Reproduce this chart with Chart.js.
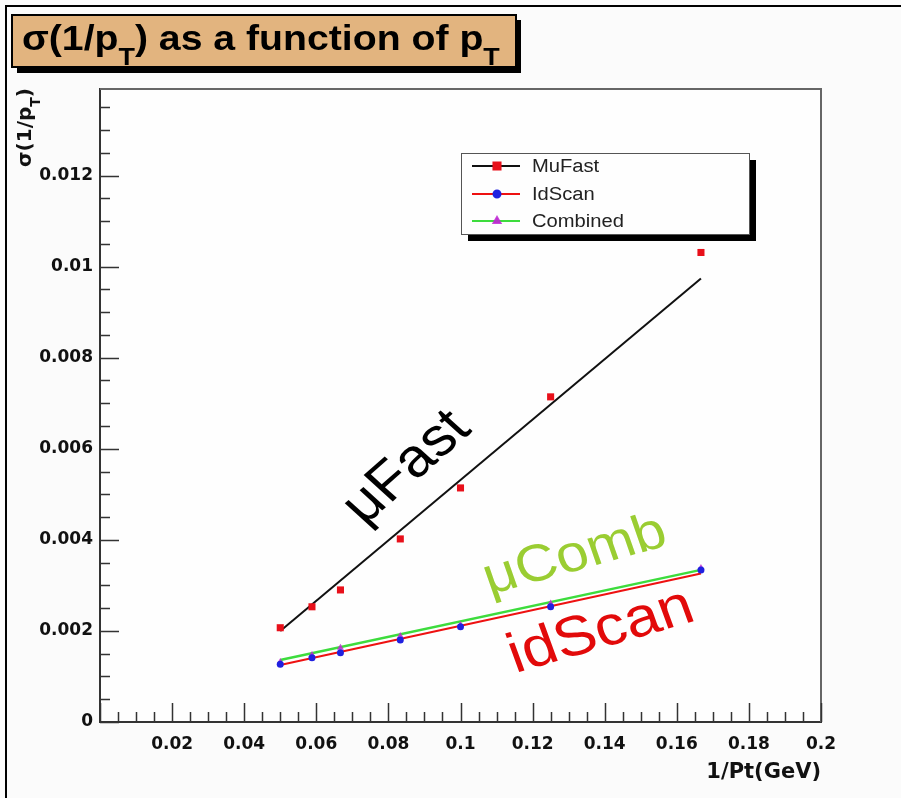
<!DOCTYPE html>
<html>
<head>
<meta charset="utf-8">
<script src="https://cdn.jsdelivr.net/npm/chart.js@4/dist/chart.umd.min.js"></script>
<style>
  html, body { margin: 0; padding: 0; background: #fbfbfb; }
  #wrap { width: 901px; height: 798px; }
</style>
</head>
<body>
<div id="wrap"><canvas id="sigma" width="901" height="798"></canvas></div>
<script>
// 1/pT points (pT = 20, 17, 15, 12, 10, 8, 6 GeV)
const invPt = [0.05, 0.0588, 0.0667, 0.0833, 0.1, 0.125, 0.1667];
const muFast = [0.00207, 0.00253, 0.0029, 0.00402, 0.00514, 0.00714, 0.01031];
const idScan = [0.00127, 0.00141, 0.00152, 0.0018, 0.00209, 0.00253, 0.00334];
const combined = [0.00132, 0.00147, 0.00163, 0.00189, 0.00213, 0.0026, 0.00338];

// straight-line fits, read at both ends
const fitX = [0.05, 0.1667];
const muFastFit = [0.002, 0.00974];
const idScanFit = [0.00125, 0.00326];
const combinedFit = [0.00136, 0.00334];

const xTickVals = [0.02, 0.04, 0.06, 0.08, 0.1, 0.12, 0.14, 0.16, 0.18, 0.2];
const yTickVals = [0, 0.002, 0.004, 0.006, 0.008, 0.01, 0.012];
const xMinorStep = 0.005;
const yMinorStep = 0.0005;

const SX = 1.12; // the picture is a bit wide, stretch hand-drawn text to match

function pts(xs, ys) {
    return xs.map((x, i) => ({ x: x, y: ys[i] }));
}

// text with an optional horizontal stretch, rotated about (x, y)
function stretchText(ctx, str, x, y, deg, font, color, sx, align) {
    ctx.save();
    ctx.translate(x, y);
    ctx.scale(sx, 1);
    ctx.rotate(-deg * Math.PI / 180);
    ctx.font = font;
    ctx.fillStyle = color;
    ctx.textAlign = align || 'center';
    ctx.textBaseline = 'middle';
    ctx.fillText(str, 0, 0);
    ctx.restore();
}

const decor = {
    id: 'decor',
    beforeDraw(chart) {
        const ctx = chart.ctx, ca = chart.chartArea;
        ctx.save();
        ctx.fillStyle = '#fbfbfb';
        ctx.fillRect(0, 0, chart.width, chart.height);
        ctx.fillStyle = '#fefefe';
        ctx.fillRect(ca.left, ca.top, ca.right - ca.left, ca.bottom - ca.top);

        // outer border (left + top)
        ctx.fillStyle = '#000';
        ctx.fillRect(5, 5, 2, chart.height);
        ctx.fillRect(5, 5, chart.width, 2);

        // title pave with shadow
        ctx.fillStyle = '#000';
        ctx.fillRect(17, 20, 504, 53);
        ctx.fillStyle = '#e2b47f';
        ctx.fillRect(12, 15, 504, 52);
        ctx.strokeStyle = '#000';
        ctx.lineWidth = 2;
        ctx.strokeRect(12, 15, 504, 52);

        // title text with subscripts
        ctx.save();
        ctx.translate(22, 0);
        ctx.scale(SX, 1);
        ctx.fillStyle = '#000';
        ctx.textBaseline = 'alphabetic';
        const big = 'bold 35px "Liberation Sans", Arial, sans-serif';
        const small = 'bold 24px "Liberation Sans", Arial, sans-serif';
        const parts = [['σ(1/p', big, 50], ['T', small, 65], [') as a function of p', big, 50], ['T', small, 65]];
        let px = 0;
        parts.forEach(p => {
            ctx.font = p[1];
            ctx.fillText(p[0], px, p[2]);
            px += ctx.measureText(p[0]).width;
        });
        ctx.restore();
        ctx.restore();
    },
    afterDraw(chart) {
        const ctx = chart.ctx, ca = chart.chartArea;
        const xs = chart.scales.x, ys = chart.scales.y;
        ctx.save();

        // frame top/right
        ctx.strokeStyle = '#666';
        ctx.lineWidth = 2;
        ctx.beginPath();
        ctx.moveTo(ca.left, ca.top);
        ctx.lineTo(ca.right, ca.top);
        ctx.lineTo(ca.right, ca.bottom);
        ctx.stroke();

        // inward ticks, ROOT style
        ctx.strokeStyle = '#333';
        ctx.lineWidth = 1.5;
        ctx.beginPath();
        for (let i = 0; i * xMinorStep <= xs.max + 1e-9; i++) {
            const px = Math.round(xs.getPixelForValue(i * xMinorStep)) + 0.5;
            const len = i % 4 === 0 ? 19 : 10;
            ctx.moveTo(px, ca.bottom);
            ctx.lineTo(px, ca.bottom - len);
        }
        for (let i = 0; i * yMinorStep <= ys.max + 1e-9; i++) {
            const py = Math.round(ys.getPixelForValue(i * yMinorStep)) + 0.5;
            const len = i % 4 === 0 ? 19 : 10;
            ctx.moveTo(ca.left, py);
            ctx.lineTo(ca.left + len, py);
        }
        ctx.stroke();

        // y axis title with subscript, rotated
        ctx.save();
        ctx.translate(31, 167);
        ctx.rotate(-Math.PI / 2);
        ctx.fillStyle = '#111';
        ctx.textBaseline = 'alphabetic';
        ctx.font = 'bold 20px "DejaVu Sans", sans-serif';
        ctx.fillText('σ(1/p', 0, 0);
        let w = ctx.measureText('σ(1/p').width;
        ctx.font = 'bold 14px "DejaVu Sans", sans-serif';
        ctx.fillText('T', w, 9);
        w += ctx.measureText('T').width;
        ctx.font = 'bold 20px "DejaVu Sans", sans-serif';
        ctx.fillText(')', w, 0);
        ctx.restore();

        // legend box with shadow
        const lx = 461, ly = 153, lw = 288, lh = 81;
        ctx.fillStyle = '#000';
        ctx.fillRect(lx + 7, ly + 7, lw, lh);
        ctx.fillStyle = '#fefefe';
        ctx.fillRect(lx, ly, lw, lh);
        ctx.strokeStyle = '#555';
        ctx.lineWidth = 1;
        ctx.strokeRect(lx + 0.5, ly + 0.5, lw, lh);

        const entries = [
            { label: 'MuFast', line: 3, mark: 0 },
            { label: 'IdScan', line: 4, mark: 1 },
            { label: 'Combined', line: 5, mark: 2 }
        ];
        const rowY = [166, 194, 221];
        entries.forEach((e, i) => {
            const lineDs = chart.data.datasets[e.line];
            const markDs = chart.data.datasets[e.mark];
            const y = rowY[i];
            ctx.strokeStyle = lineDs.borderColor;
            ctx.lineWidth = 2;
            ctx.beginPath();
            ctx.moveTo(472, y);
            ctx.lineTo(520, y);
            ctx.stroke();
            ctx.fillStyle = markDs.backgroundColor;
            ctx.strokeStyle = markDs.borderColor;
            Chart.helpers.drawPoint(ctx, {
                pointStyle: markDs.pointStyle,
                radius: markDs.pointRadius,
                rotation: 0,
                borderWidth: 1
            }, 497, y);
            stretchText(ctx, e.label, 532, y + 1, 0, '18px "Liberation Sans", Arial, sans-serif', '#222', SX, 'left');
        });

        // hand-written labels on the fits
        stretchText(ctx, 'μFast', 407, 468, 44.5, '54px "Liberation Sans", Arial, sans-serif', '#000', SX);
        stretchText(ctx, 'μComb', 575, 556, 17.3, '52px "Liberation Sans", Arial, sans-serif', '#9acd32', SX);
        stretchText(ctx, 'idScan', 601, 632, 18, '56px "Liberation Sans", Arial, sans-serif', '#e20a0a', SX);

        ctx.restore();
    }
};

const tickFont = { family: '"DejaVu Sans", sans-serif', weight: 'bold', size: 17 };

new Chart(document.getElementById('sigma'), {
    type: 'scatter',
    data: {
        datasets: [
            {
                label: 'MuFast',
                data: pts(invPt, muFast),
                pointStyle: 'rect',
                pointRadius: 5,
                backgroundColor: '#e8101a',
                borderColor: '#e8101a',
                borderWidth: 0,
                order: 0
            },
            {
                label: 'IdScan',
                data: pts(invPt, idScan),
                pointStyle: 'circle',
                pointRadius: 3.5,
                backgroundColor: '#2020e0',
                borderColor: '#2020e0',
                borderWidth: 0,
                order: 0
            },
            {
                label: 'Combined',
                data: pts(invPt, combined),
                pointStyle: 'triangle',
                pointRadius: 4,
                backgroundColor: 'rgba(190,40,210,0.85)',
                borderColor: 'rgba(190,40,210,0.85)',
                borderWidth: 0,
                order: 0
            },
            {
                label: 'MuFast fit',
                data: pts(fitX, muFastFit),
                showLine: true,
                pointRadius: 0,
                borderColor: '#111',
                borderWidth: 2,
                order: 1
            },
            {
                label: 'IdScan fit',
                data: pts(fitX, idScanFit),
                showLine: true,
                pointRadius: 0,
                borderColor: '#ee1111',
                borderWidth: 2,
                order: 1
            },
            {
                label: 'Combined fit',
                data: pts(fitX, combinedFit),
                showLine: true,
                pointRadius: 0,
                borderColor: '#3ddc3d',
                borderWidth: 2.5,
                order: 1
            }
        ]
    },
    options: {
        responsive: false,
        animation: false,
        devicePixelRatio: 1,
        layout: { padding: { left: 10, top: 89, right: 80, bottom: 0 } },
        plugins: {
            legend: { display: false },
            tooltip: { enabled: false }
        },
        scales: {
            x: {
                type: 'linear',
                min: 0,
                max: 0.2,
                afterBuildTicks: s => { s.ticks = xTickVals.map(v => ({ value: v })); },
                afterFit: s => { s.height = 76; },
                grid: { display: false, drawTicks: false },
                border: { display: true, color: '#333', width: 2 },
                ticks: {
                    font: tickFont,
                    color: '#111',
                    padding: 12,
                    autoSkip: false,
                    maxRotation: 0,
                    callback: v => String(v)
                },
                title: {
                    display: true,
                    text: '1/Pt(GeV)',
                    align: 'end',
                    color: '#111',
                    font: { family: '"DejaVu Sans", sans-serif', weight: 'bold', size: 21 },
                    padding: { top: 0, bottom: 13 }
                }
            },
            y: {
                type: 'linear',
                min: 0,
                max: 0.0139,
                afterBuildTicks: s => { s.ticks = yTickVals.map(v => ({ value: v })); },
                afterFit: s => { s.width = 90; },
                grid: { display: false, drawTicks: false },
                border: { display: true, color: '#333', width: 2 },
                ticks: {
                    font: tickFont,
                    color: '#111',
                    padding: 7,
                    autoSkip: false,
                    callback: v => String(v)
                }
            }
        }
    },
    plugins: [decor]
});
</script>
</body>
</html>
